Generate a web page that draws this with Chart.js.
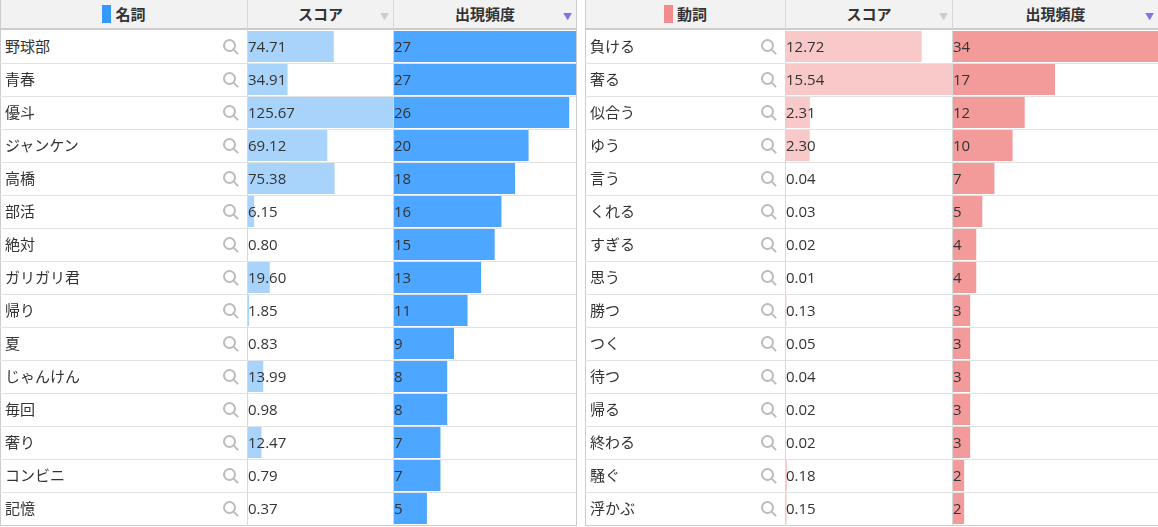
<!DOCTYPE html>
<html><head><meta charset="utf-8">
<script src="https://cdn.jsdelivr.net/npm/chart.js@4"></script>
<style>
body{margin:0;background:#fff;font-family:"Open Sans","Noto Sans CJK JP",sans-serif;font-size:15px;color:#333;}
.tbl{position:absolute;top:0;height:526px;border:1px solid #ccc;box-sizing:border-box;}
.hdr{position:absolute;top:0;height:30px;background:#f2f2f2;border-bottom:2px solid #ccc;box-sizing:border-box;font-weight:bold;font-size:15px;line-height:28px;text-align:center;}
.vl{position:absolute;top:0;bottom:0;width:1px;background:#d8d8d8;}
.hl{position:absolute;height:1px;background:#e2e2e2;}
.cell{position:absolute;height:33px;line-height:33px;white-space:nowrap;}
.mag{position:absolute;width:9px;height:9px;border:2px solid #bbb;border-radius:50%;}
.mag:after{content:"";position:absolute;width:2px;height:6px;background:#bbb;left:10px;top:8px;transform:rotate(-45deg);}
.tri{position:absolute;top:12px;font-size:9px;line-height:9px;}
.cw{position:absolute;}
</style></head><body>
<div id="root"></div>
<script>
const nounWords=["野球部","青春","優斗","ジャンケン","高橋","部活","絶対","ガリガリ君","帰り","夏","じゃんけん","毎回","奢り","コンビニ","記憶"];
const nounScores=[74.71,34.91,125.67,69.12,75.38,6.15,0.80,19.60,1.85,0.83,13.99,0.98,12.47,0.79,0.37];
const nounFreq=[27,27,26,20,18,16,15,13,11,9,8,8,7,7,5];
const verbWords=["負ける","奢る","似合う","ゆう","言う","くれる","すぎる","思う","勝つ","つく","待つ","帰る","終わる","騒ぐ","浮かぶ"];
const verbScores=[12.72,15.54,2.31,2.30,0.04,0.03,0.02,0.01,0.13,0.05,0.04,0.02,0.02,0.18,0.15];
const verbFreq=[34,17,12,10,7,5,4,4,3,3,3,3,3,2,2];

const root=document.getElementById('root');
const ROW=33,TOP=30,N=15;
function el(cls,style,txt){const d=document.createElement('div');d.className=cls;Object.assign(d.style,style);if(txt!==undefined)d.textContent=txt;root.appendChild(d);return d;}
function bar(x,w,vals,color,max){
  const c=el('cw',{left:x+'px',top:TOP+'px',width:w+'px',height:(ROW*N)+'px'});
  const cv=document.createElement('canvas');c.appendChild(cv);
  new Chart(cv,{type:'bar',data:{labels:vals.map((v,i)=>i),datasets:[{data:vals,backgroundColor:color,barPercentage:1,categoryPercentage:0.94}]},
    options:{indexAxis:'y',responsive:true,maintainAspectRatio:false,animation:false,
      layout:{padding:0},plugins:{legend:{display:false},tooltip:{enabled:false}},
      scales:{x:{display:false,min:0,max:max},y:{display:false}}}});
}
function table(x0,cols,title,marker,words,scores,freq,sc,fc,triColor){
  const [w1,w2,w3]=cols;const W=w1+w2+w3;
  el('tbl',{left:x0+'px',width:(W+1)+'px'});
  bar(x0+w1,w2,scores,sc,Math.max(...scores));
  bar(x0+w1+w2,w3,freq,fc,Math.max(...freq));
  el('hdr',{left:(x0+1)+'px',width:(w1-1)+'px'}).innerHTML='<span style="display:inline-block;width:9px;height:18px;background:'+marker+';vertical-align:-3px;margin-right:4px"></span>'+title;
  el('hdr',{left:(x0+w1+1)+'px',width:(w2-1)+'px'},'スコア');
  el('hdr',{left:(x0+w1+w2+1)+'px',width:(w3-1)+'px'},'出現頻度');
  el('tri',{left:(x0+w1+w2-13)+'px',color:'#ccc'},'▼');
  el('tri',{left:(x0+W-13)+'px',color:triColor},'▼');
  el('vl',{left:(x0+w1)+'px',height:'526px'});el('vl',{left:(x0+w1+w2)+'px',height:'526px'});
  for(let i=0;i<N;i++){
    const y=TOP+i*ROW;
    if(i>0)el('hl',{left:x0+'px',width:W+'px',top:y+'px'});
    el('cell',{left:(x0+5)+'px',top:y+'px'},words[i]);
    el('mag',{left:(x0+w1-24)+'px',top:(y+9)+'px'});
    el('cell',{left:(x0+w1+1)+'px',top:y+'px'},scores[i].toFixed(2));
    el('cell',{left:(x0+w1+w2+1)+'px',top:y+'px'},String(freq[i]));
  }
}
table(0,[247,146,183],'名詞','#3399ff',nounWords,nounScores,nounFreq,'#a8d4fb','#4da6ff','#7777dd');
table(585,[200,167,206],'動詞','#f28b8b',verbWords,verbScores,verbFreq,'#f9c8c9','#f39a9b','#7777dd');
</script></body></html>
